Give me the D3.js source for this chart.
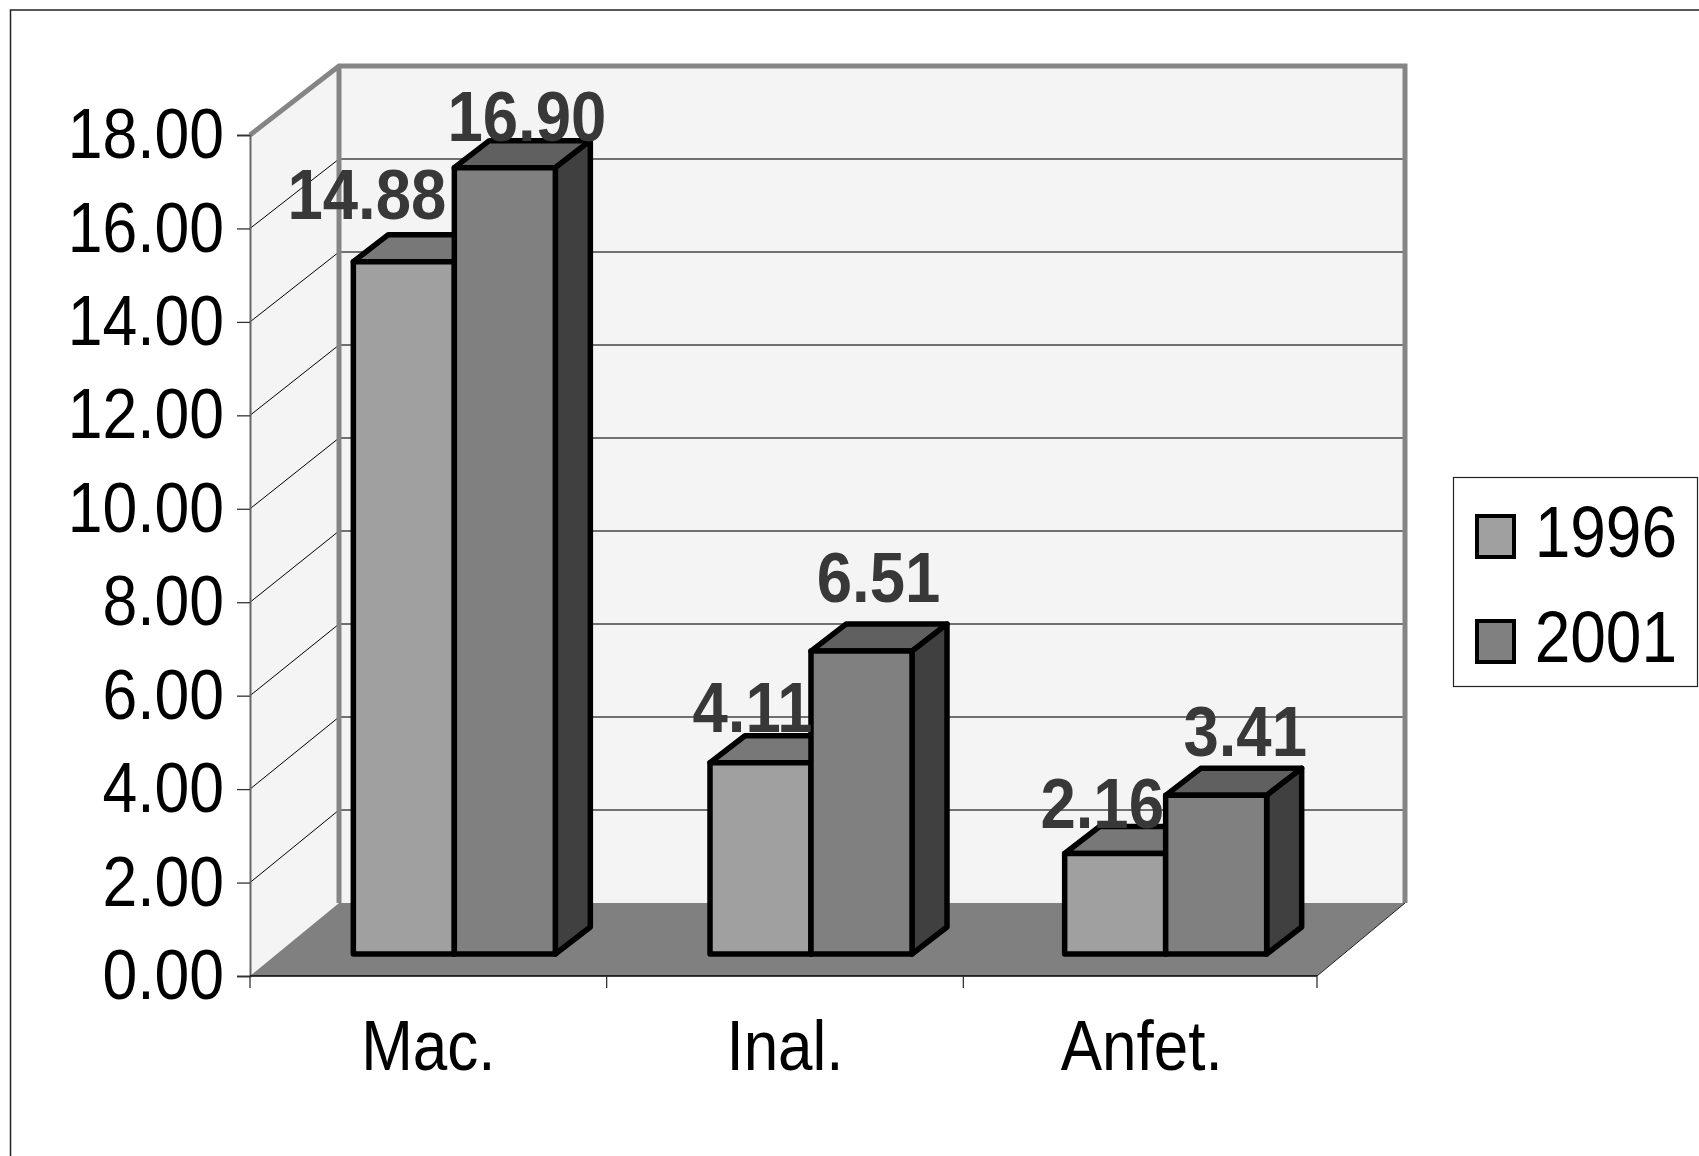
<!DOCTYPE html>
<html>
<head>
<meta charset="utf-8">
<script src="https://cdn.jsdelivr.net/npm/d3@7"></script>
<style>
  html, body { margin: 0; padding: 0; background: #fff; }
  svg { display: block; }
  text { font-family: "Liberation Sans", Arial, sans-serif; }
</style>
</head>
<body>
<svg id="chart" width="1699" height="1156"></svg>
<script>
// Values
const categories = ["Mac.", "Inal.", "Anfet."];
const seriesNames = ["1996", "2001"];
const values1996 = [14.88, 4.11, 2.16];
const values2001 = [16.90, 6.51, 3.41];
const yTicks = [0, 2, 4, 6, 8, 10, 12, 14, 16, 18];

// Hand-placed value label offsets from each bar's top centre, [dx, dy]
const labelNudge1996 = [[-37, -43], [-8, -31], [-13, -26]];
const labelNudge2001 = [[22, -27], [17, -49], [29, -39]];

// Colours
const fillFront = ["#a0a0a0", "#808080"];
const fillTop = ["#787878", "#606060"];
const fillSide = "#404040";

const svg = d3.select("#chart");
const stretch = 1.13;

// Three planes of the box: front edge, back wall, and the plane of the bar fronts
const yFront = d3.scaleLinear().domain([0, 18]).range([976, 135]);
const yBack = d3.scaleLinear().domain([0, 18]).range([903, 66]);
const yBar = d3.scaleLinear().domain([0, 18]).range([954, 116.5]);
const x = d3.scaleBand().domain(categories).range([250, 1320]);
const floorRight = 1317;
const barWidth = 101, depthX = 35, depthY = 27;
const barShift = [26, 26, 24];
const backLeft = 339, backRight = 1405;

// Page frame
svg.append("path").attr("d", "M10.5,1156V10H1699").attr("fill", "none").attr("stroke", "#222").attr("stroke-width", 1.5);

// Walls and floor
svg.append("polygon").attr("fill", "#f4f4f4")
  .attr("points", [[backLeft, yBack(18)], [backRight, yBack(18)], [backRight, yBack(0)], [backLeft, yBack(0)]].join(" "));
svg.append("polygon").attr("fill", "#f4f4f4")
  .attr("points", [[250, yFront(18)], [backLeft, yBack(18)], [backLeft, yBack(0)], [250, yFront(0)]].join(" "));

// Gridlines on both walls
const grid = svg.append("g");
grid.selectAll(".back").data(yTicks.slice(1, -1)).join("line")
  .attr("x1", backLeft).attr("x2", backRight)
  .attr("y1", d => yBack(d)).attr("y2", d => yBack(d))
  .attr("stroke", "#444").attr("stroke-width", 1.4);
grid.selectAll(".side").data(yTicks.slice(1, -1)).join("line")
  .attr("x1", 250).attr("x2", backLeft)
  .attr("y1", d => yFront(d)).attr("y2", d => yBack(d))
  .attr("stroke", "#000").attr("stroke-width", 1);

svg.append("polygon").attr("fill", "#808080")
  .attr("points", [[250, yFront(0)], [backLeft, yBack(0)], [backRight, yBack(0)], [floorRight, yFront(0)]].join(" "));

// Heavy grey wall frame
svg.append("path")
  .attr("d", `M250,${yFront(18)}L${backLeft},${yBack(18)}H${backRight}V${yBack(0)}M${backLeft},${yBack(18)}V${yBack(0)}`)
  .attr("fill", "none").attr("stroke", "#858585").attr("stroke-width", 5).attr("stroke-linejoin", "miter");
svg.append("line").attr("x1", floorRight).attr("y1", yFront(0)).attr("x2", backRight).attr("y2", yBack(0))
  .attr("stroke", "#222").attr("stroke-width", 1);

// Axes
const yAxis = svg.append("g").attr("transform", "translate(250,0)")
  .call(d3.axisLeft(yFront).tickValues(yTicks).tickFormat(d3.format(".2f")).tickSize(13).tickPadding(13));
yAxis.select(".domain").attr("stroke", "#666").attr("stroke-width", 2);
yAxis.selectAll(".tick line").attr("stroke", "#333").attr("stroke-width", 1.3);
yAxis.selectAll(".tick text")
  .attr("fill", "#000").attr("font-size", 62.5)
  .attr("transform", `scale(1,${stretch})`);

const xAxis = svg.append("g").attr("transform", `translate(0,${yFront(0)})`)
  .call(d3.axisBottom(x).tickSize(0));
xAxis.select(".domain").remove();
xAxis.selectAll(".tick text")
  .attr("fill", "#000").attr("font-size", 62).attr("y", 0).attr("dy", 0)
  .attr("transform", `translate(0,94) scale(1,${stretch})`);
xAxis.append("line").attr("x1", 250).attr("x2", floorRight).attr("stroke", "#000").attr("stroke-width", 1.5);
xAxis.selectAll(".edge").data([0, 1, 2, 3]).join("line")
  .attr("x1", i => Math.min(250 + i * x.bandwidth(), floorRight))
  .attr("x2", i => Math.min(250 + i * x.bandwidth(), floorRight))
  .attr("y1", 0).attr("y2", 12).attr("stroke", "#333").attr("stroke-width", 1.3);

// 3D bars
const allValues = [values1996, values2001];
const nudges = [labelNudge1996, labelNudge2001];
const bars = svg.append("g").attr("stroke", "#000").attr("stroke-width", 5.5).attr("stroke-linejoin", "round");
const labels = [];
categories.forEach((c, ci) => {
  const x0 = x(c) + x.bandwidth() / 2 + barShift[ci] - barWidth;
  allValues.forEach((vals, si) => {
    const left = x0 + si * barWidth, right = left + barWidth;
    const top = yBar(vals[ci]), base = yBar(0);
    bars.append("polygon").attr("fill", fillTop[si])
      .attr("points", [[left, top], [left + depthX, top - depthY], [right + depthX, top - depthY], [right, top]].join(" "));
    bars.append("polygon").attr("fill", fillSide)
      .attr("points", [[right, top], [right + depthX, top - depthY], [right + depthX, base - depthY], [right, base]].join(" "));
    bars.append("rect").attr("fill", fillFront[si])
      .attr("x", left).attr("y", top).attr("width", barWidth).attr("height", base - top);
    labels.push({
      text: d3.format(".2f")(vals[ci]),
      x: left + barWidth / 2 + nudges[si][ci][0],
      y: top + nudges[si][ci][1]
    });
  });
});

// Value labels sit over the bars
svg.append("g").selectAll("text").data(labels).join("text")
  .attr("transform", d => `translate(${d.x},${d.y}) scale(1,1.1)`)
  .attr("text-anchor", "middle").attr("font-size", 63.5).attr("font-weight", "bold")
  .attr("fill", "#383838").text(d => d.text);

// Legend
const legend = svg.append("g");
legend.append("rect").attr("x", 1453.5).attr("y", 477.5).attr("width", 244).attr("height", 209)
  .attr("fill", "#fff").attr("stroke", "#222").attr("stroke-width", 1.2);
const legendY = d3.scalePoint().domain(seriesNames).range([558, 663]);
const items = legend.selectAll("g").data(seriesNames).join("g")
  .attr("transform", d => `translate(0,${legendY(d)})`);
items.append("rect").attr("x", 1477).attr("y", -42).attr("width", 37).attr("height", 41)
  .attr("fill", (d, i) => fillFront[i]).attr("stroke", "#000").attr("stroke-width", 4);
items.append("text").attr("text-anchor", "end")
  .attr("font-size", 64).attr("transform", `translate(1677,-1) scale(1,${stretch})`).attr("fill", "#000").text(d => d);
</script>
</body>
</html>
